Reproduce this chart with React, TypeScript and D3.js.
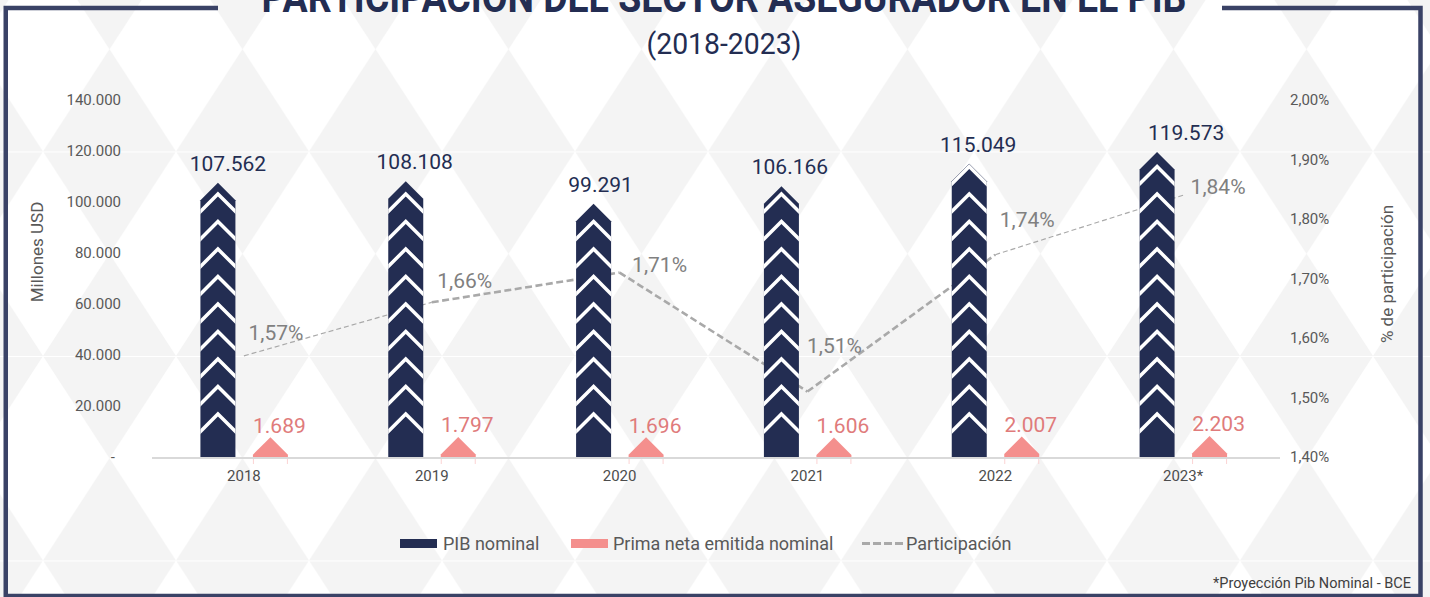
import React from "react";
import * as d3 from "d3";

// ---------- data ----------
const years = ["2018", "2019", "2020", "2021", "2022", "2023*"];
const pibNominal = [107562, 108108, 99291, 106166, 115049, 119573];
const primaNeta = [1689, 1797, 1696, 1606, 2007, 2203];
const participacion = [1.57, 1.66, 1.71, 1.51, 1.74, 1.84];
const leftTicks = [0, 20000, 40000, 60000, 80000, 100000, 120000, 140000];
const rightTicks = [1.4, 1.5, 1.6, 1.7, 1.8, 1.9, 2.0];
const legendLabels = ["PIB nominal", "Prima neta emitida nominal", "Participación"];

// ---------- style ----------
const NAVY = "#232d52";
const FRAME = "#3a4266";
const PINK = "#f48f8d";
const PINK_TXT = "#e07b7b";
const GRAY_LINE = "#a9a9a9";
const BG_GRAY = "#f4f4f4";
const FONT = "Roboto, 'Noto Sans', sans-serif";
const partLabelOffsets = [
  [32, -23],
  [33, -21],
  [40, -8],
  [27, -46],
  [32, -35],
  [35, -8],
];
const pibLabelDx = [10, 9, 7, 8.5, 9, 29];
const segWidths = [1.2, 2.6, 2.6, 2.6, 1.2];

const locale = d3.formatLocale({
  decimal: ",",
  thousands: ".",
  grouping: [3],
  currency: ["$", ""],
});
const fmtInt = locale.format(",d");
const fmtPct = (v: number) => locale.format(".2f")(v) + "%";

export default function App() {
  const W = 1430;
  const H = 597;
  const base = 457;
  const x = d3.scaleBand<string>().domain(years).range([150, 1277]).padding(0);
  const yL = d3.scaleLinear().domain([0, 140000]).range([base, 100]);
  const yR = d3.scaleLinear().domain([1.4, 2.0]).range([base, 100]);
  const barW = 35;
  const cap = barW / 2;
  const cx = (i: number) => (x(years[i]) as number) + x.bandwidth() / 2;

  // pattern tile
  const tW = 133;
  const tH = 204.5;

  const linePts = participacion.map((v, i) => [cx(i), yR(v)] as [number, number]);

  return (
    <svg
      width={W}
      height={H}
      viewBox={`0 0 ${W} ${H}`}
      style={{ position: "absolute", left: 0, top: 0, fontFamily: FONT }}
    >
      <defs>
        <pattern
          id="bgp"
          patternUnits="userSpaceOnUse"
          x={43}
          y={151.5 - tH}
          width={tW}
          height={tH}
        >
          <rect width={tW} height={tH} fill="#ffffff" />
          <path
            d={`M0,0 L${tW},0 L${tW / 2},${tH / 2} Z M0,${tH} L${tW},${tH} L${tW / 2},${tH / 2} Z`}
            fill={BG_GRAY}
          />
          <line x1={0} x2={tW} y1={0} y2={0} stroke="#ffffff" strokeWidth={2} />
        </pattern>
        {pibNominal.map((v, i) => {
          const xc = cx(i) - 26;
          const x0 = xc - barW / 2;
          const x1 = xc + barW / 2;
          const yp = yL(v);
          const ys = yp + cap;
          return (
            <clipPath id={`clip-pib-${i}`} key={i}>
              <path d={`M${x0},${base} L${x0},${ys} L${xc},${yp} L${x1},${ys} L${x1},${base} Z`} />
            </clipPath>
          );
        })}
      </defs>

      {/* background */}
      <rect x={0} y={0} width={W} height={H} fill="url(#bgp)" />

      {/* frame */}
      <path
        d={`M218,8 L5.75,8 L5.75,596 L1420.5,596 L1420.5,8 L1222,8`}
        fill="none"
        stroke={FRAME}
        strokeWidth={4.5}
      />

      {/* title (top half cut off, as in the original) */}
      <text
        x={724}
        y={12}
        textAnchor="middle"
        fontSize={42}
        fontWeight={700}
        fill={NAVY}
        textLength={925}
        lengthAdjust="spacingAndGlyphs"
      >
        PARTICIPACIÓN DEL SECTOR ASEGURADOR EN EL PIB
      </text>
      <text
        x={724}
        y={54}
        textAnchor="middle"
        fontSize={29}
        fill={NAVY}
        textLength={155}
        lengthAdjust="spacingAndGlyphs"
      >
        (2018-2023)
      </text>

      {/* left axis labels */}
      {leftTicks.map((t) => (
        <text
          key={t}
          x={t === 0 ? 115 : 121}
          y={yL(t)}
          textAnchor="end"
          dominantBaseline="central"
          fontSize={15}
          fill="#595959"
        >
          {t === 0 ? "-" : fmtInt(t)}
        </text>
      ))}
      <text
        transform={`translate(37,252) rotate(-90)`}
        textAnchor="middle"
        dominantBaseline="central"
        fontSize={17}
        fill="#595959"
      >
        Millones USD
      </text>

      {/* right axis labels */}
      {rightTicks.map((t) => (
        <text
          key={t}
          x={1290}
          y={yR(t)}
          textAnchor="start"
          dominantBaseline="central"
          fontSize={15}
          fill="#595959"
        >
          {fmtPct(t)}
        </text>
      ))}
      <text
        transform={`translate(1387,274) rotate(-90)`}
        textAnchor="middle"
        dominantBaseline="central"
        fontSize={17}
        fill="#595959"
      >
        % de participación
      </text>

      {/* participation line (behind bars) */}
      {linePts.slice(1).map((p, i) => {
        const a = linePts[i];
        const w = segWidths[i];
        return (
          <line
            key={i}
            x1={a[0]}
            y1={a[1]}
            x2={p[0]}
            y2={p[1]}
            stroke={GRAY_LINE}
            strokeWidth={w}
            strokeDasharray={w > 2 ? "7 3.5" : "5 3"}
          />
        );
      })}

      {/* PIB bars */}
      {pibNominal.map((v, i) => {
        const xc = cx(i) - 26;
        const x0 = xc - barW / 2;
        const x1 = xc + barW / 2;
        const yp = yL(v);
        const ys = yp + cap;
        const chev: number[] = [];
        for (let k = 0; ; k++) {
          const a = base - 43 - 27.5 * k;
          if (a < yp - 20) break;
          chev.push(a);
        }
        return (
          <g key={i}>
            <path
              d={`M${x0},${base} L${x0},${ys} L${xc},${yp} L${x1},${ys} L${x1},${base} Z`}
              fill={NAVY}
            />
            <g clipPath={`url(#clip-pib-${i})`}>
              {chev.map((a, k) => (
                <polyline
                  key={k}
                  points={`${x0 - 3},${a + cap + 3} ${xc},${a} ${x1 + 3},${a + cap + 3}`}
                  fill="none"
                  stroke="#ffffff"
                  strokeWidth={3.5}
                />
              ))}
            </g>
            <text
              x={xc + pibLabelDx[i]}
              y={yp - 12}
              textAnchor="middle"
              fontSize={21}
              fill={NAVY}
            >
              {fmtInt(v)}
            </text>
          </g>
        );
      })}

      {/* Prima bars */}
      {primaNeta.map((v, i) => {
        const xc = cx(i) + 26.5;
        const x0 = xc - barW / 2;
        const x1 = xc + barW / 2;
        const ys = Math.min(yL(v) + 2, base - 1);
        const yp = ys - cap;
        return (
          <g key={i}>
            <line x1={x0 + 0.5} x2={x0 + 0.5} y1={base} y2={base + 7} stroke="#fbd3d3" strokeWidth={1} />
            <line x1={x1 - 0.5} x2={x1 - 0.5} y1={base} y2={base + 7} stroke="#fbd3d3" strokeWidth={1} />
            <path
              d={`M${x0},${base} L${x0},${ys} L${xc},${yp} L${x1},${ys} L${x1},${base} Z`}
              fill={PINK}
            />
            <text
              x={xc + 9}
              y={yL(v) - 20}
              textAnchor="middle"
              fontSize={21}
              fill={PINK_TXT}
            >
              {fmtInt(v)}
            </text>
          </g>
        );
      })}

      {/* x axis */}
      <line x1={152} x2={1280} y1={base + 1} y2={base + 1} stroke="#d9d9d9" strokeWidth={2} />
      {years.map((yr, i) => (
        <text
          key={yr}
          x={cx(i)}
          y={476}
          textAnchor="middle"
          dominantBaseline="central"
          fontSize={15}
          fill="#4d4d4d"
        >
          {yr}
        </text>
      ))}

      {/* participation labels */}
      {participacion.map((v, i) => (
        <text
          key={i}
          x={cx(i) + partLabelOffsets[i][0]}
          y={yR(v) + partLabelOffsets[i][1]}
          textAnchor="middle"
          dominantBaseline="central"
          fontSize={21}
          fill="#808080"
        >
          {fmtPct(v)}
        </text>
      ))}

      {/* legend */}
      <g fontSize={18} fill="#595959">
        <rect x={400} y={539} width={37} height={9} fill={NAVY} />
        <text x={443} y={543.5} dominantBaseline="central">
          {legendLabels[0]}
        </text>
        <rect x={571} y={539} width={37} height={9} fill={PINK} />
        <text x={613} y={543.5} dominantBaseline="central">
          {legendLabels[1]}
        </text>
        <line
          x1={862}
          x2={903}
          y1={543.5}
          y2={543.5}
          stroke={GRAY_LINE}
          strokeWidth={3}
          strokeDasharray="8 3"
        />
        <text x={906} y={543.5} dominantBaseline="central">
          {legendLabels[2]}
        </text>
      </g>

      {/* footnote */}
      <text x={1411} y={588} textAnchor="end" fontSize={14.5} fill="#404040">
        *Proyección Pib Nominal - BCE
      </text>
    </svg>
  );
}
